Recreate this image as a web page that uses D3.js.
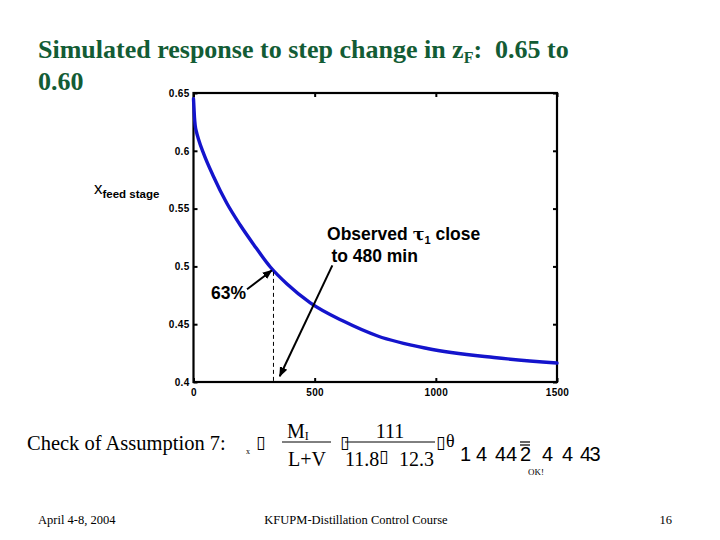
<!DOCTYPE html>
<html>
<head>
<meta charset="utf-8">
<script src="https://cdn.jsdelivr.net/npm/d3@7"></script>
<style>
  body { margin: 0; background: #fff; }
  svg { display: block; }
</style>
</head>
<body>
<svg id="chart" width="720" height="540"></svg>
<script>
// ---- data ----
const times  = [0, 2, 4, 7, 12, 20, 41, 82, 137, 192, 248, 317, 386, 482, 620, 760, 965, 1240, 1500];
const values = [0.645, 0.637, 0.629, 0.622, 0.6165, 0.6105, 0.598, 0.578, 0.5548, 0.536, 0.519, 0.4995, 0.4848, 0.4685, 0.4525, 0.4398, 0.429, 0.4212, 0.4164];
const xTicks = [0, 500, 1000, 1500];
const yTicks = [0.4, 0.45, 0.5, 0.55, 0.6, 0.65];
const xTickLabels = ["0", "500", "1000", "1500"];
const yTickLabels = ["0.4", "0.45", "0.5", "0.55", "0.6", "0.65"];
const tau63 = 330;          // time at 63% response
const val63 = 0.497;

const svg = d3.select("#chart");
svg.append("rect").attr("width", 720).attr("height", 540).attr("fill", "#fff");

const x = d3.scaleLinear().domain([0, 1500]).range([193.5, 557]);
const y = d3.scaleLinear().domain([0.4, 0.65]).range([382, 93]);

// arrow marker
const defs = svg.append("defs");
defs.append("marker").attr("id", "ah").attr("viewBox", "0 0 10 10")
  .attr("refX", 9).attr("refY", 5).attr("markerWidth", 5).attr("markerHeight", 5)
  .attr("markerUnits", "strokeWidth").attr("orient", "auto")
  .append("path").attr("d", "M0,1 L10,5 L0,9 Z").attr("fill", "#000");

// ---- title ----
const title = svg.append("text").attr("x", 38).attr("y", 58)
  .attr("font-family", "'Liberation Serif', 'Times New Roman', serif")
  .attr("font-weight", "bold").attr("font-size", 26).attr("fill", "#135c35")
  .attr("xml:space", "preserve");
title.append("tspan").text("Simulated response to step change in z");
title.append("tspan").attr("font-size", 16).attr("dy", 5).text("F");
title.append("tspan").attr("dy", -5).text(":  0.65 to");
svg.append("text").attr("x", 38).attr("y", 90)
  .attr("font-family", "'Liberation Serif', 'Times New Roman', serif")
  .attr("font-weight", "bold").attr("font-size", 26).attr("fill", "#135c35")
  .text("0.60");

// ---- axes (MATLAB style box with inside ticks) ----
const g = svg.append("g");
const tickLen = 4;
g.append("g").attr("transform", `translate(0,${y(0.4)})`)
  .call(d3.axisBottom(x).tickValues(xTicks).tickSize(-tickLen).tickFormat((d, i) => xTickLabels[i]).tickPadding(7))
  .call(s => s.select(".domain").remove());
g.append("g").attr("transform", `translate(0,${y(0.65)})`)
  .call(d3.axisTop(x).tickValues(xTicks).tickSize(-tickLen).tickFormat(""))
  .call(s => s.select(".domain").remove());
g.append("g").attr("transform", `translate(${x(0)},0)`)
  .call(d3.axisLeft(y).tickValues(yTicks).tickSize(-tickLen).tickFormat((d, i) => yTickLabels[i]).tickPadding(4))
  .call(s => s.select(".domain").remove());
g.append("g").attr("transform", `translate(${x(1500)},0)`)
  .call(d3.axisRight(y).tickValues(yTicks).tickSize(-tickLen).tickFormat(""))
  .call(s => s.select(".domain").remove());
g.selectAll(".tick line").attr("stroke", "#000").attr("stroke-width", 2);
g.selectAll(".tick text").attr("font-family", "Arial, 'Liberation Sans', sans-serif")
  .attr("font-weight", "bold").attr("font-size", 10).attr("letter-spacing", 0.3).attr("fill", "#000");

g.append("rect").attr("x", x(0)).attr("y", y(0.65))
  .attr("width", x(1500) - x(0)).attr("height", y(0.4) - y(0.65))
  .attr("fill", "none").attr("stroke", "#000").attr("stroke-width", 2.2);

// ---- curve ----
const line = d3.line().x((d, i) => x(times[i])).y(d => y(d)).curve(d3.curveMonotoneX);
svg.append("path").datum(values).attr("d", line)
  .attr("fill", "none").attr("stroke", "#1414cc").attr("stroke-width", 3.4)
  .attr("stroke-linejoin", "round").attr("stroke-linecap", "round");

// ---- y label ----
const yl = svg.append("text").attr("x", 94).attr("y", 194)
  .attr("font-family", "Arial, 'Liberation Sans', sans-serif").attr("fill", "#000");
yl.append("tspan").attr("font-size", 17).text("x");
yl.append("tspan").attr("font-size", 11.5).attr("font-weight", "bold").attr("dy", 4).text("feed stage");

// ---- annotations ----
const annFont = "Arial, 'Liberation Sans', sans-serif";
// dashed vertical at 63% time
svg.append("line").attr("x1", x(tau63)).attr("x2", x(tau63))
  .attr("y1", y(val63) + 2).attr("y2", y(0.4))
  .attr("stroke", "#000").attr("stroke-width", 1).attr("stroke-dasharray", "4,3");

// 63% label and arrow
svg.append("text").attr("x", x(72)).attr("y", y(0.4716))
  .attr("font-family", annFont).attr("font-weight", "bold").attr("font-size", 17.5)
  .attr("fill", "#000").text("63%");
svg.append("line").attr("x1", x(221)).attr("y1", y(0.4802))
  .attr("x2", x(323)).attr("y2", y(0.4965))
  .attr("stroke", "#000").attr("stroke-width", 2).attr("marker-end", "url(#ah)");

// observed tau label and arrow
const obs = svg.append("text").attr("x", x(551)).attr("y", y(0.5226))
  .attr("font-family", annFont).attr("font-weight", "bold").attr("font-size", 17.5).attr("fill", "#000")
  .attr("xml:space", "preserve");
obs.append("tspan").text("Observed ");
obs.append("tspan").attr("font-family", "'DejaVu Serif', serif").attr("font-weight", "bold").text("τ");
obs.append("tspan").attr("font-size", 11).attr("dy", 4).text("1");
obs.append("tspan").attr("dy", -4).text(" close");
svg.append("text").attr("x", x(569)).attr("y", y(0.5035))
  .attr("font-family", annFont).attr("font-weight", "bold").attr("font-size", 17.5).attr("fill", "#000")
  .text("to 480 min");
svg.append("line").attr("x1", x(573)).attr("y1", y(0.5009))
  .attr("x2", x(356)).attr("y2", y(0.405))
  .attr("stroke", "#000").attr("stroke-width", 2).attr("marker-end", "url(#ah)");

// ---- formula line ----
const serif = "'Liberation Serif', 'Times New Roman', serif";
const sans = "Arial, 'Liberation Sans', sans-serif";
function txt(t, xx, yy, size, fam, anchor) {
  return svg.append("text").attr("x", xx).attr("y", yy).attr("font-size", size)
    .attr("font-family", fam).attr("fill", "#000").attr("text-anchor", anchor || "start")
    .attr("xml:space", "preserve").text(t);
}
txt("Check of Assumption 7:", 27, 450, 20.5, serif);
txt("x", 246, 454, 8, serif);
txt("▯", 256, 448, 17, "'DejaVu Sans', sans-serif");
const mi = txt("M", 287, 438, 20, serif);
mi.append("tspan").attr("font-size", 12).attr("dy", 2).text("I");
svg.append("line").attr("x1", 282).attr("x2", 331).attr("y1", 442).attr("y2", 442).attr("stroke", "#000").attr("stroke-width", 1);
txt("L+V", 307, 466, 20, serif, "middle");
txt("▯", 340, 448, 17, "'DejaVu Sans', sans-serif");
txt("111", 390, 438, 20, serif, "middle");
svg.append("line").attr("x1", 345).attr("x2", 435).attr("y1", 442).attr("y2", 442).attr("stroke", "#000").attr("stroke-width", 1);
txt("11.8", 345, 466, 20, serif);
txt("▯", 379, 462, 17, "'DejaVu Sans', sans-serif");
txt("12.3", 399, 466, 20, serif);
txt("▯", 436, 448, 17, "'DejaVu Sans', sans-serif");
txt("θ", 446, 447, 18, serif);
txt("1", 460, 461, 20, sans);
txt("4", 476, 461, 20, sans);
txt("44", 495, 461, 20, sans);
txt("2", 520, 461, 20, sans);
svg.append("line").attr("x1", 520).attr("x2", 530).attr("y1", 442).attr("y2", 442).attr("stroke", "#000").attr("stroke-width", 1.2);
svg.append("line").attr("x1", 520).attr("x2", 530).attr("y1", 445).attr("y2", 445).attr("stroke", "#000").attr("stroke-width", 1.2);
txt("4", 542, 461, 20, sans);
txt("4", 562, 461, 20, sans);
txt("43", 580, 461, 20, sans).attr("letter-spacing", -1.5);
txt("OK!", 536, 475, 9, serif, "middle");

// ---- footer ----
txt("April 4-8, 2004", 38, 524, 12.5, serif);
txt("KFUPM-Distillation Control Course", 356, 524, 12.5, serif, "middle");
txt("16", 672, 524, 12.5, serif, "end");
</script>
</body>
</html>
